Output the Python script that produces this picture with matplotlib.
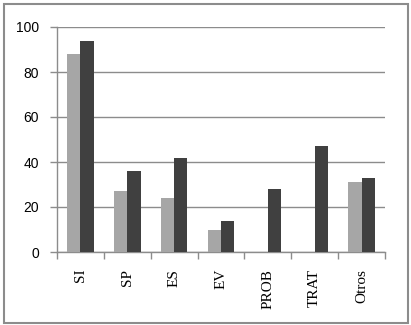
import matplotlib
matplotlib.use("Agg")
import matplotlib.pyplot as plt
import numpy as np
from matplotlib.patches import Rectangle

categories = ["SI", "SP", "ES", "EV", "PROB", "TRAT", "Otros"]
serie_clara = [88, 27, 24, 10, 0, 0, 31]
serie_oscura = [94, 36, 42, 14, 28, 47, 33]
yticks = [0, 20, 40, 60, 80, 100]

W, H = 411, 325
fig = plt.figure(figsize=(W / 100, H / 100), dpi=100)
ax = fig.add_axes([57 / W, 1 - 252 / H, (385 - 57) / W, (252 - 27) / H])

x = np.arange(len(categories))
bw = 0.285
ax.bar(x - bw / 2, serie_clara, width=bw, color="#A6A6A6", zorder=3)
ax.bar(x + bw / 2, serie_oscura, width=bw, color="#404040", zorder=3)

ax.set_xlim(-0.5, len(categories) - 0.5)
ax.set_ylim(0, 100)
ax.set_yticks(yticks)
ax.set_yticklabels([str(v) for v in yticks], family="Liberation Sans", fontsize=10)
ax.yaxis.grid(True, color="#8C8C8C", linewidth=1.0, zorder=0)
ax.set_axisbelow(True)

ax.set_xticks(x)
ax.set_xticklabels(categories, rotation=90, family="Liberation Serif", fontsize=11)
ax.tick_params(axis="x", length=0, pad=12)
ax.set_xticks(np.arange(-0.5, len(categories)), minor=True)
ax.tick_params(axis="x", which="minor", length=5, color="#8C8C8C", width=1)
ax.tick_params(axis="y", length=5, color="#8C8C8C", width=1, pad=8)

for s in ["top", "right"]:
    ax.spines[s].set_visible(False)
for s in ["left", "bottom"]:
    ax.spines[s].set_color("#8C8C8C")
    ax.spines[s].set_linewidth(1)

fig.patches.append(Rectangle((3.5 / W, 2.5 / H), (408 - 3.5) / W, (322 - 3.5) / H,
                             transform=fig.transFigure, fill=False,
                             edgecolor="#8C8C8C", linewidth=1.5))

fig.savefig("out.png", dpi=100)
